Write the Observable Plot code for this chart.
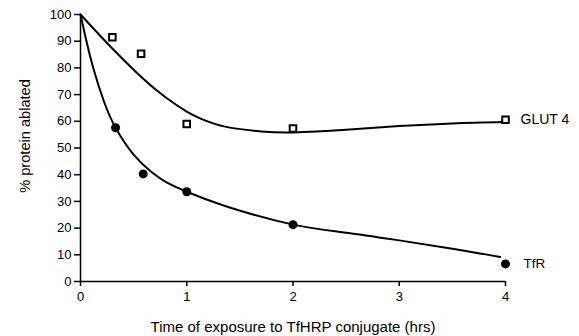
<!DOCTYPE html>
<html>
<head>
<meta charset="utf-8">
<script src="https://cdn.jsdelivr.net/npm/d3@7"></script>
<script src="https://cdn.jsdelivr.net/npm/@observablehq/plot@0.6"></script>
<style>
  html, body { margin: 0; padding: 0; background: white; }
</style>
</head>
<body>
<div id="chart"></div>
<script>
// Measured data points
const glutX = [0.30, 0.57, 1.0, 2.0, 4.0];
const glutY = [91.5, 85.3, 59, 57.3, 60.6];
const tfrX = [0.33, 0.59, 1.0, 2.0, 4.0];
const tfrY = [57.6, 40.3, 33.6, 21.3, 6.6];

// Fitted curves
const glutCurveX = [0, 0.27, 0.58, 0.8, 1.0, 1.13, 1.36, 1.7, 2.0, 2.5, 3.0, 3.5, 4.0];
const glutCurveY = [100, 88.5, 76.3, 69, 63.6, 61, 58, 56.2, 55.8, 56.8, 58.2, 59.2, 59.7];
const tfrCurveX = [0, 0.05, 0.12, 0.22, 0.33, 0.5, 0.66, 0.815, 1.0, 1.36, 2.0, 2.5, 3.0, 3.5, 3.95];
const tfrCurveY = [100, 91, 80, 67.5, 57.6, 47.5, 41.3, 37, 33.6, 28.3, 21.3, 18.3, 15.4, 12.3, 9.2];

// Axis ticks and labels
const xTicks = [0, 1, 2, 3, 4];
const yTicks = [0, 10, 20, 30, 40, 50, 60, 70, 80, 90, 100];
const seriesNames = ["GLUT 4", "TfR"];
const xTitle = "Time of exposure to TfHRP conjugate (hrs)";
const yTitle = "% protein ablated";

const zip = (xs, ys) => xs.map((x, i) => ({x, y: ys[i]}));
const glut = zip(glutX, glutY);
const tfr = zip(tfrX, tfrY);
const glutCurve = zip(glutCurveX, glutCurveY);
const tfrCurve = zip(tfrCurveX, tfrCurveY);

const chart = Plot.plot({
  width: 579,
  height: 336,
  marginLeft: 80,
  marginRight: 74,
  marginTop: 14,
  marginBottom: 55,
  x: {domain: [0, 4]},
  y: {domain: [0, 100]},
  style: {fontFamily: "'Liberation Sans', Arial, sans-serif", fontSize: "13px", color: "black", background: "white"},
  marks: [
    Plot.axisY({ticks: yTicks, tickSize: 6, tickPadding: 3, tickFormat: d3.format("d"), label: null, strokeWidth: 1.5}),
    Plot.axisX({ticks: xTicks, tickSize: 5, tickPadding: 5, tickFormat: d3.format("d"), label: null, strokeWidth: 1.5}),
    Plot.ruleX([0], {y1: 0, y2: 100, stroke: "black", strokeWidth: 1.5}),
    Plot.ruleY([0], {x1: 0, x2: 4, stroke: "black", strokeWidth: 1.5}),
    Plot.line(glutCurve, {x: "x", y: "y", curve: "natural", stroke: "black", strokeWidth: 2}),
    Plot.line(tfrCurve, {x: "x", y: "y", curve: "natural", stroke: "black", strokeWidth: 2}),
    Plot.dot(glut, {x: "x", y: "y", symbol: "square", r: 3.7, stroke: "black", strokeWidth: 2, fill: "white"}),
    Plot.dot(tfr, {x: "x", y: "y", r: 4.5, fill: "black", stroke: "none"}),
    Plot.text([seriesNames[0]], {x: () => glutX[4], y: () => glutY[4], dx: 15, textAnchor: "start", lineAnchor: "middle", fontSize: 14}),
    Plot.text([seriesNames[1]], {x: () => tfrX[4], y: () => tfrY[4], dx: 18, textAnchor: "start", lineAnchor: "middle", fontSize: 13.5}),
    Plot.text([yTitle], {frameAnchor: "left", rotate: -90, dx: -55, dy: -12, fontSize: 14.6, textAnchor: "middle", lineAnchor: "middle"}),
    Plot.text([xTitle], {frameAnchor: "bottom", dy: 46, fontSize: 15, textAnchor: "middle", lineAnchor: "middle"})
  ]
});
document.getElementById("chart").appendChild(chart);
</script>
</body>
</html>
